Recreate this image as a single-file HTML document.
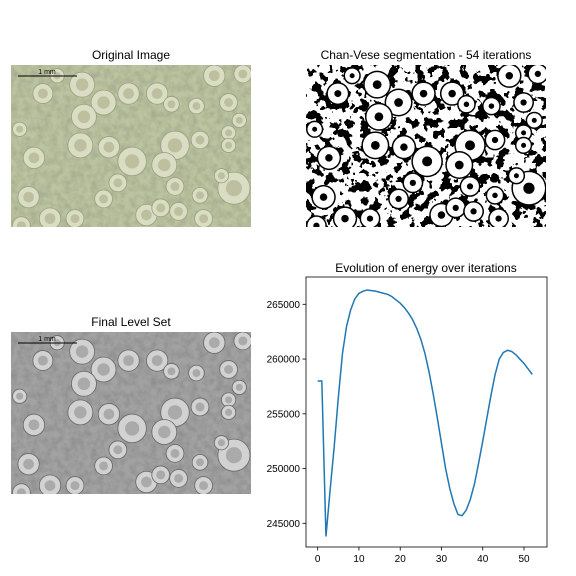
<!DOCTYPE html>
<html><head><meta charset="utf-8"><style>
body{margin:0;background:#fff;}
svg{display:block;font-family:"Liberation Sans",sans-serif;}
</style></head><body>
<svg id="fig" width="576" height="576" viewBox="0 0 576 576">
<defs>
<filter id="tex" x="0" y="0" width="100%" height="100%">
<feTurbulence type="fractalNoise" baseFrequency="0.15" numOctaves="3" seed="3"/>
<feColorMatrix type="matrix" values="0 0 0 0 0.35  0 0 0 0 0.38  0 0 0 0 0.25  1.4 0 0 0 -0.45"/>
</filter>
<filter id="texg" x="0" y="0" width="100%" height="100%">
<feTurbulence type="fractalNoise" baseFrequency="0.15" numOctaves="3" seed="3"/>
<feColorMatrix type="matrix" values="0 0 0 0 0.25  0 0 0 0 0.25  0 0 0 0 0.25  1.4 0 0 0 -0.45"/>
</filter>
<filter id="bw" x="0" y="0" width="100%" height="100%">
<feTurbulence type="fractalNoise" baseFrequency="0.11" numOctaves="3" seed="7"/>
<feColorMatrix type="matrix" values="1.3 0 0 0 -0.1  1.3 0 0 0 -0.1  1.3 0 0 0 -0.1  0 0 0 0 1"/>
<feComponentTransfer><feFuncR type="discrete" tableValues="0 1"/><feFuncG type="discrete" tableValues="0 1"/><feFuncB type="discrete" tableValues="0 1"/></feComponentTransfer>
</filter>
<clipPath id="c1"><rect x="0" y="0" width="240" height="162"/></clipPath>
</defs>

<text x="131" y="59" font-size="12" text-anchor="middle" fill="#000">Original Image</text>
<text x="426" y="59" font-size="12" text-anchor="middle" fill="#000">Chan-Vese segmentation - 54 iterations</text>
<text x="131" y="326" font-size="12" text-anchor="middle" fill="#000">Final Level Set</text>

<g id="orig" transform="translate(11,65)" clip-path="url(#c1)">
<rect width="240" height="162" fill="#bcc3a0"/>
<rect width="240" height="162" filter="url(#tex)"/>
</g>
<g id="seg" transform="translate(306,65)" clip-path="url(#c1)">
<rect width="240" height="162" fill="#000"/>
<rect width="240" height="162" filter="url(#bw)"/>
</g>
<g id="lvl" transform="translate(11,332)" clip-path="url(#c1)">
<rect width="240" height="162" fill="#a2a2a2"/>
<rect width="240" height="162" filter="url(#texg)"/>
</g>

<text x="426" y="272" font-size="12" text-anchor="middle" fill="#000">Evolution of energy over iterations</text>
<g id="chart"></g>
</svg>
<script>
const NS="http://www.w3.org/2000/svg";
const iterations=[];for(let i=0;i<54;i++)iterations.push(i);
const energy=[258000,258000,243800,248000,252000,256500,260500,263000,264500,265500,266000,266200,266300,266250,266200,266100,266000,265900,265700,265400,265100,264700,264200,263600,262800,261800,260500,258800,256800,254600,252300,250000,248200,246800,245800,245700,246200,247200,248600,250500,252500,254600,256700,258600,260000,260600,260800,260700,260400,260000,259600,259100,258600];
const xTicks=[0,10,20,30,40,50];
const yTicks=[245000,250000,255000,260000,265000];
const lichens=[[230,125,35],[120,150,28],[290,175,35],[235,215,35],[360,150,30],[440,150,30],[480,180,22],[550,185,22],[640,175,25],[670,225,20],[640,260,20],[225,295,35],[305,300,30],[370,340,40],[490,295,40],[460,350,35],[560,280,25],[640,295,20],[95,330,30],[330,400,25],[490,410,25],[560,435,22],[655,415,45],[80,440,30],[140,500,30],[210,500,25],[290,445,25],[410,490,30],[450,470,25],[500,480,25],[570,500,25],[620,380,20],[60,520,25],[55,250,20],[600,100,30],[680,95,25],[160,100,20]];
const L=306,R=547,T=277,B=547;
const xs=v=>317.7+v*4.126, ys=v=>304.3+(265000-v)*0.01095;
function el(t,a,p){const e=document.createElementNS(NS,t);for(const k in a)e.setAttribute(k,a[k]);(p||document.getElementById('chart')).appendChild(e);return e;}
for(const [X,Y,Rr] of lichens){
  const x=X/2.8-11,y=Y/2.8-25,r=Rr/2.8;
  let c=el('circle',{cx:x,cy:y,r:r,fill:'#d9ddc4',stroke:'#9aa07e','stroke-width':0.8},document.getElementById('orig'));
  
  c=el('circle',{cx:x,cy:y,r:r*0.5,fill:'#bdbf9f'},document.getElementById('orig'));
  c=el('circle',{cx:x,cy:y,r:r,fill:'#d2d2d2',stroke:'#666','stroke-width':0.8},document.getElementById('lvl'));
  
  c=el('circle',{cx:x,cy:y,r:r*0.5,fill:'#aaa'},document.getElementById('lvl'));
  c=el('circle',{cx:x,cy:y,r:r+1.5,fill:'#000'},document.getElementById('seg'));
  c=el('circle',{cx:x,cy:y,r:r,fill:'#fff'},document.getElementById('seg'));
  
  c=el('circle',{cx:x,cy:y,r:r*0.35,fill:'#000'},document.getElementById('seg'));
}
for(const id of ['orig','lvl']){const g=document.getElementById(id);
  el('line',{x1:7,y1:11,x2:66,y2:11,stroke:'#000','stroke-width':1},g);
  const t=el('text',{x:36,y:9,'font-size':7,'text-anchor':'middle',fill:'#000'},g);t.textContent='1 mm';
  }
const ax=el('rect',{x:L,y:T,width:R-L,height:B-T,fill:'none',stroke:'#000','stroke-width':0.8});

for(const v of xTicks){const x=xs(v);el('line',{x1:x,y1:B,x2:x,y2:B+3.5,stroke:'#000','stroke-width':0.8});
  const t=el('text',{x:x,y:B+15,'font-size':10,'text-anchor':'middle'});t.textContent=v;
  }
for(const v of yTicks){const y=ys(v);el('line',{x1:L-3.5,y1:y,x2:L,y2:y,stroke:'#000','stroke-width':0.8});
  const t=el('text',{x:L-6,y:y+3.5,'font-size':10,'text-anchor':'end'});t.textContent=v;
  }
const line=el('polyline',{points:energy.map((v,i)=>xs(iterations[i])+','+ys(v)).join(' '),fill:'none',stroke:'#1f77b4','stroke-width':1.5});


</script>
</body></html>
